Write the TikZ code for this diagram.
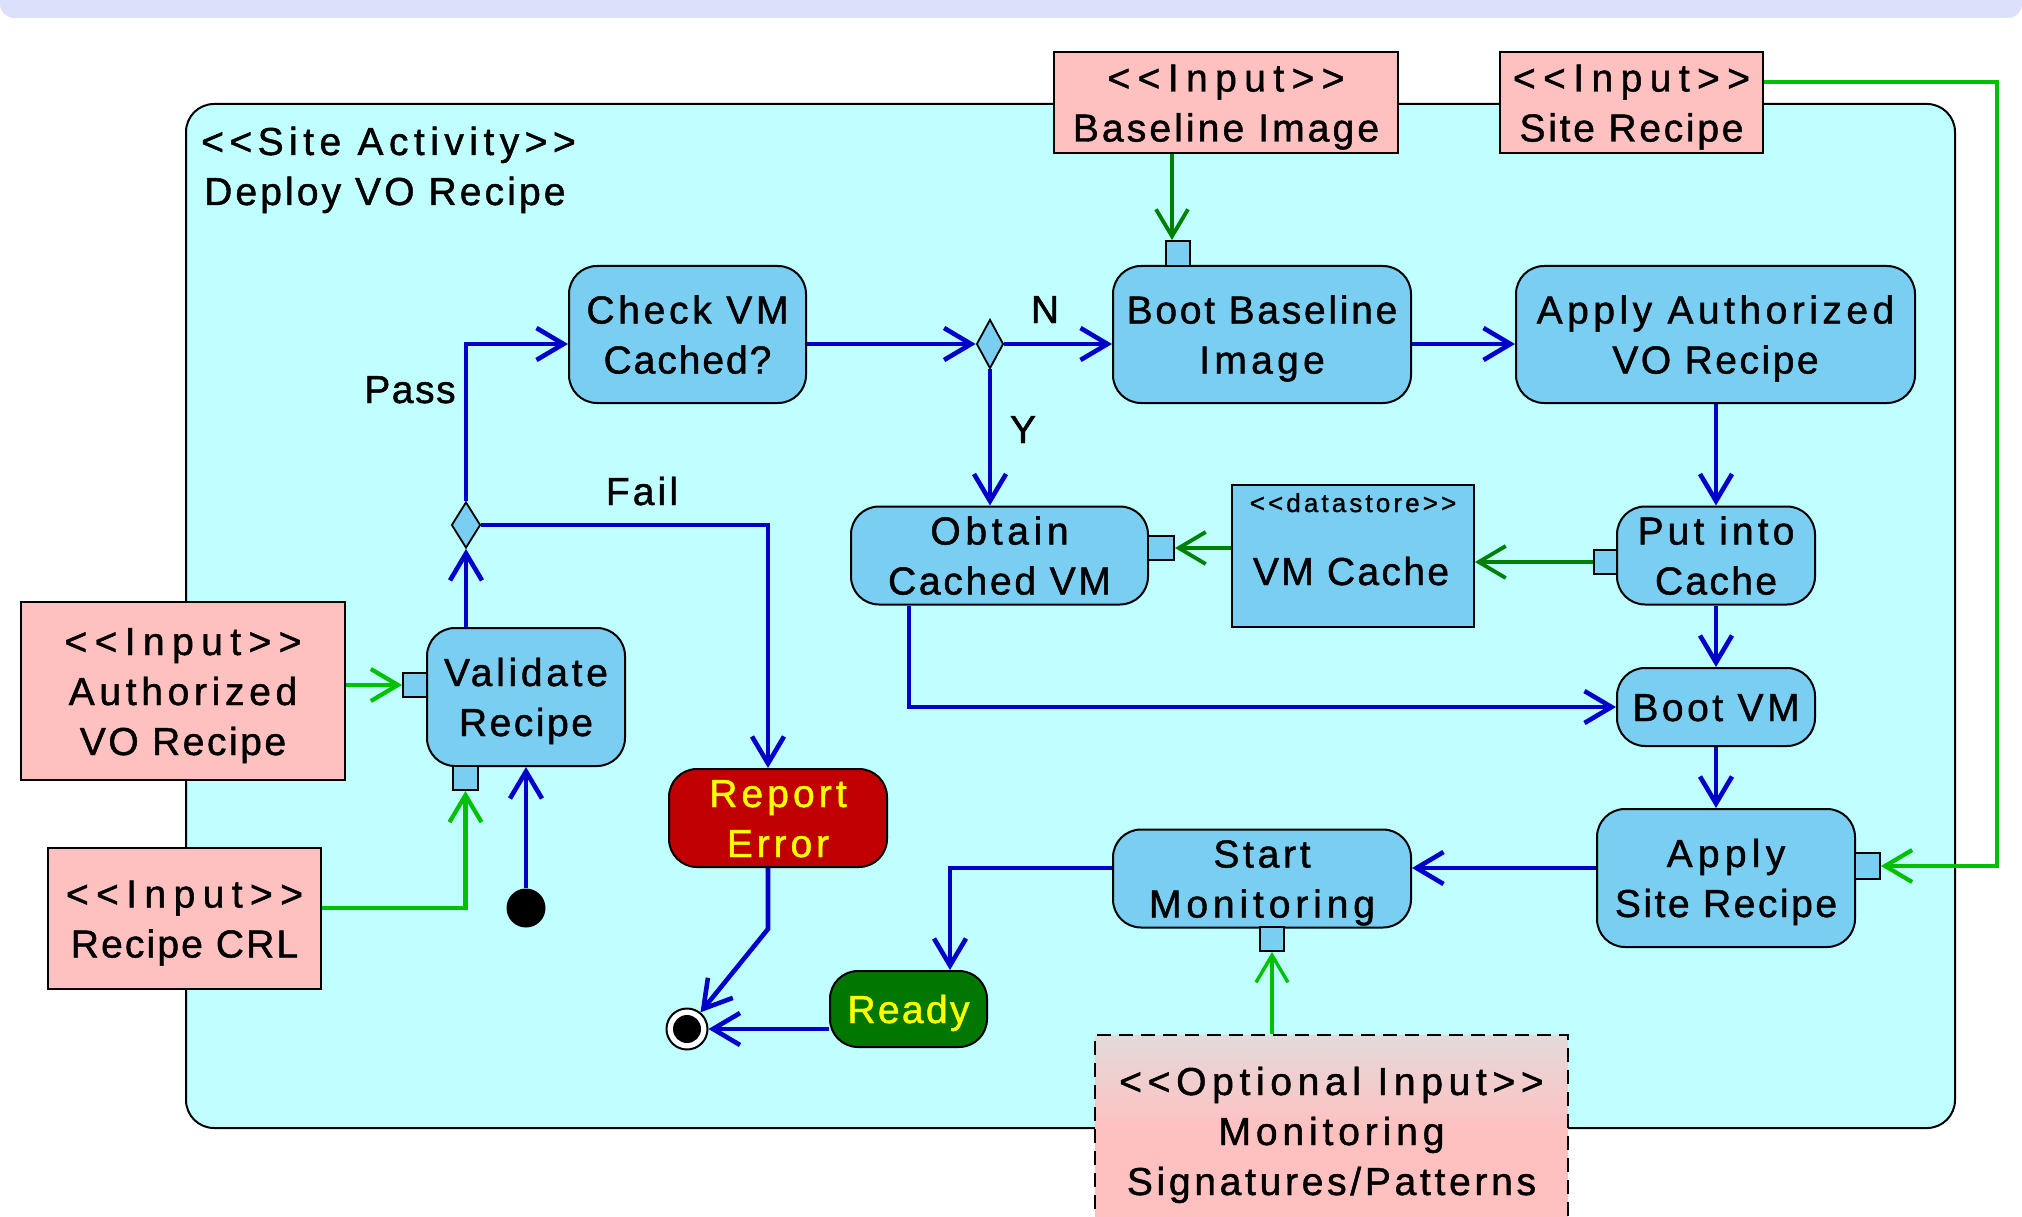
\documentclass[tikz,border=0pt]{standalone}
\usepackage{fontspec}
\newfontfamily\uf{Liberation Sans}[FakeBold=1.2]
\usetikzlibrary{arrows.meta,shapes.geometric}
\definecolor{bandc}{RGB}{221,224,251}
\definecolor{contfill}{RGB}{191,255,255}
\definecolor{actfill}{RGB}{122,206,242}
\definecolor{inpink}{RGB}{255,192,192}
\definecolor{optgrey}{RGB}{228,218,219}
\definecolor{flowblue}{RGB}{0,0,200}
\definecolor{ingreen}{RGB}{0,192,0}
\definecolor{dkgreen}{RGB}{0,128,0}
\definecolor{errred}{RGB}{192,0,0}
\definecolor{readyg}{RGB}{0,119,0}
\definecolor{txtyellow}{RGB}{255,255,0}
\newcommand\lsp[2]{{\addfontfeature{LetterSpace=#1}#2}}
\newcommand\bigtxt{\uf\fontsize{39}{50}\selectfont}
\newcommand\sr{\rule[-10pt]{0pt}{48pt}}
\begin{document}
\begin{tikzpicture}[x=1pt,y=-1pt,
  every node/.style={font=\bigtxt},
  act/.style={draw=black, line width=2pt, fill=actfill, rounded corners=28pt, align=center, inner sep=0pt},
  inbox/.style={draw=black, line width=2pt, fill=inpink, align=center, inner sep=0pt},
  port/.style={draw=black, line width=2pt, fill=actfill, inner sep=0pt},
  dia/.style={diamond, draw=black, line width=1.8pt, fill=actfill, inner sep=0pt},
  lbl/.style={anchor=base, inner sep=0pt},
  tip/.style={-{Straight Barb[length=27pt,width=32pt]}},
  flow/.style={draw=flowblue, line width=4.6pt, tip},
  inflow/.style={draw=ingreen, line width=4.2pt, tip},
  dkflow/.style={draw=dkgreen, line width=3.8pt, tip}]
\useasboundingbox (0,0) rectangle (2022,1217);
\clip (0,0) rectangle (2022,1217);
\fill[white] (0,0) rectangle (2022,1217);
\fill[bandc, rounded corners=14pt] (0,-40) rectangle (2022,18);
\draw[line width=2pt, fill=contfill, rounded corners=28pt] (186,104) rectangle (1955,1128);

% title
\node[anchor=base west, inner sep=0pt] (ttl1) at (201,155) {\lsp{14}{<<Site Activity>>}};
\node[anchor=base west, inner sep=0pt] (ttl2) at (204,205) {\lsp{8}{Deploy VO Recipe}};

% inputs
\node[inbox, minimum width=344pt, minimum height=101pt] (inbase) at (1226,102.5) {\sr\lsp{19}{<<Input>>}\\\sr\lsp{8}{Baseline Image}};
\node[inbox, minimum width=263pt, minimum height=101pt] (insite) at (1631.5,102.5) {\sr\lsp{19}{<<Input>>}\\\sr\lsp{7}{Site Recipe}};
\node[inbox, minimum width=324pt, minimum height=178pt] (inauth) at (183,691) {\sr\lsp{19}{<<Input>>}\\\sr\lsp{12}{Authorized}\\\sr\lsp{6.5}{VO Recipe}};
\node[inbox, minimum width=273pt, minimum height=141pt] (incrl) at (184.5,918.5) {\sr\lsp{19}{<<Input>>}\\\sr\lsp{5.5}{Recipe CRL}};
\node[draw=black, line width=2pt, dash pattern=on 14pt off 8pt, top color=optgrey, bottom color=inpink, middle color=inpink, minimum width=473pt, minimum height=192pt, inner sep=0pt, align=center] (opt) at (1331.5,1131) {\sr\lsp{14.5}{<<Optional Input>>}\\\sr\lsp{12.5}{Monitoring}\\\sr\lsp{9.5}{Signatures/Patterns}};

% actions
\node[act, minimum width=237pt, minimum height=137pt] (check) at (687.5,334.5) {\sr\lsp{9.5}{Check VM}\\\sr\lsp{5}{Cached?}};
\node[act, minimum width=298pt, minimum height=137pt] (bootb) at (1262,334.5) {\sr\lsp{7}{Boot Baseline}\\\sr\lsp{11}{Image}};
\node[act, minimum width=399pt, minimum height=137pt] (applyvo) at (1715.5,334.5) {\sr\lsp{11.5}{Apply Authorized}\\\sr\lsp{6.5}{VO Recipe}};
\node[act, minimum width=297pt, minimum height=97pt] (obtain) at (999.5,555.5) {\sr\lsp{12}{Obtain}\\\sr\lsp{7}{Cached VM}};
\node[act, minimum width=198pt, minimum height=97pt] (putc) at (1716,555.5) {\sr\lsp{10.5}{Put into}\\\sr\lsp{6}{Cache}};
\node[act, minimum width=198pt, minimum height=78pt] (bootvm) at (1716,707) {\sr\lsp{9}{Boot VM}};
\node[act, minimum width=258pt, minimum height=138pt] (applys) at (1726,878) {\sr\lsp{13.5}{Apply}\\\sr\lsp{6.5}{Site Recipe}};
\node[act, minimum width=298pt, minimum height=97pt] (startm) at (1262,878.5) {\sr\lsp{9.5}{Start}\\\sr\lsp{12.5}{Monitoring}};
\node[act, minimum width=198pt, minimum height=138pt] (valid) at (526,697) {\sr\lsp{9.5}{Validate}\\\sr\lsp{6.5}{Recipe}};
\node[act, fill=errred, text=txtyellow, minimum width=218pt, minimum height=98pt] (report) at (778,818) {\sr\lsp{10.5}{Report}\\\sr\lsp{10}{Error}};
\node[act, fill=readyg, text=txtyellow, minimum width=157pt, minimum height=76pt] (ready) at (908.5,1009) {\sr\lsp{6}{Ready}};

% datastore
\node[draw=black, line width=2pt, fill=actfill, minimum width=242pt, minimum height=142pt, inner sep=0pt] (vmc) at (1353,556) {};
\node[lbl, font=\uf\fontsize{26}{30}\selectfont] (vmcst) at (1353,512) {\lsp{12}{<<datastore>>}};
\node[lbl] (vmctx) at (1351,585) {\lsp{6}{VM Cache}};

% ports
\node[port, minimum width=24pt, minimum height=25pt] (pboot) at (1178,253.5) {};
\node[port, minimum width=26pt, minimum height=24pt] (pobt) at (1161,548) {};
\node[port, minimum width=23pt, minimum height=24pt] (pput) at (1605.5,562) {};
\node[port, minimum width=25pt, minimum height=26pt] (psite) at (1867.5,866) {};
\node[port, minimum width=24pt, minimum height=24pt] (pmon) at (1272,939) {};
\node[port, minimum width=24pt, minimum height=24pt] (pvl) at (415,685) {};
\node[port, minimum width=25pt, minimum height=24pt] (pvb) at (465.5,778) {};

% control nodes
\node[dia, minimum width=27pt, minimum height=49pt] (d1) at (990,344) {};
\node[dia, minimum width=29pt, minimum height=46pt] (d2) at (466,525) {};
\node[circle, fill=black, minimum size=39pt, inner sep=0pt] (init) at (526,908) {};
\node[circle, draw=black, line width=2pt, fill=white, minimum size=41pt, inner sep=0pt,
  path picture={\fill[black] (path picture bounding box.center) circle[radius=14pt];}] (fin) at (687,1029) {};

% labels
\node[lbl] (lpass) at (410,403) {\lsp{4}{Pass}};
\node[lbl] (lfail) at (642,505) {\lsp{8}{Fail}};
\node[lbl] (ln) at (1045,323) {N};
\node[lbl] (ly) at (1023,443) {Y};

% coordinates
\coordinate (r5) at (1500,868);
\coordinate (rk) at (950,868);
\coordinate (rb) at (768,929);
\coordinate (fk) at (768,526);
\coordinate (ob) at (909,707);
\coordinate (sr) at (1997,82);
\coordinate (bx) at (1172,200);

% control flow
\draw[flow] (d2.north) |- (check.west |- d1);
\draw[flow] (check.east |- d1) -- (d1.west);
\draw[flow] (d1.east) -- (bootb.west |- d1);
\draw[flow] (bootb.east |- d1) -- (applyvo.west |- d1);
\draw[flow] (d1.south) -- (d1 |- obtain.north);
\draw[flow] (applyvo.south -| putc) -- (putc.north);
\draw[flow] (putc.south) -- (bootvm.north);
\draw[flow] (bootvm.south) -- (bootvm.south |- applys.north);
\draw[flow] (applys.west |- r5) -- (startm.east |- r5);
\draw[flow] (startm.west |- rk) -| (ready.north -| rk);
\draw[flow] (ready.west |- fin) -- (fin.east);
\draw[flow] (report.south -| rb) -- (rb) -- (fin);
\draw[flow] (d2.east) -| (fk |- report.north);
\draw[flow] (valid.north -| d2) -- (d2.south);
\draw[flow] (init.north) -- (init |- valid.south);
\draw[flow] (obtain.south -| ob) |- (bootvm.west);

% object flow
\draw[dkflow] (inbase.south -| bx) -- (pboot.north -| bx);
\draw[inflow] (insite.east |- sr) -- (sr) |- (psite.east);
\draw[dkflow] (pput.west) -- (vmc.east |- pput);
\draw[dkflow] (vmc.west |- pobt) -- (pobt.east);
\draw[inflow] (inauth.east |- pvl) -- (pvl.west);
\draw[inflow] (incrl.east |- init) -| (pvb.south);
\draw[inflow, line width=3.4pt] (opt.north -| pmon) -- (pmon.south);
\end{tikzpicture}
\end{document}
